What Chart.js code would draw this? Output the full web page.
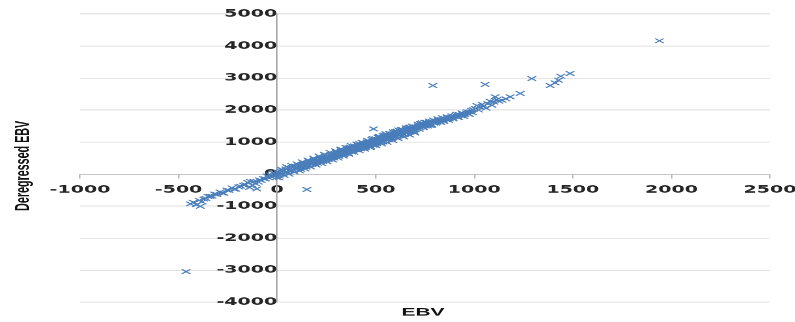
<!DOCTYPE html>
<html>
<head>
<meta charset="utf-8">
<script src="https://cdn.jsdelivr.net/npm/chart.js@4.4.1/dist/chart.umd.min.js"></script>
<style>
  html, body { margin: 0; padding: 0; background: #ffffff; overflow: hidden; }
  #wrap { width: 795px; height: 322px; overflow: hidden; position: relative; }
  #c { position: absolute; left: 0; top: 0; transform-origin: 0 0; transform: scaleY(0.536667); }
</style>
</head>
<body>
<div id="wrap"><canvas id="c" width="795" height="600"></canvas></div>
<script>
// EBV (x) and Deregressed EBV (y)
const ebv = [
  -462, -440, -425, -410, -395, -390, -380, -372, -362, -350, -340, -330, -318, -305, -290, -278, -270, -255, -245, -230, -218, -210, -195, -185, -170, -160, -150, -140, -137, -125, -118, -110, -103, -95, -90, -80, -70, -60, -50, -42, -35, -28, -20, -15, -8, -3,
  2, 5, 8, 12, 15, 18, 25, 30, 38, 44, 52, 58, 63, 70, 77, 84, 90, 97,
  104, 110, 118, 125, 131, 138, 145, 152, 160, 166, 173, 180, 188, 195, 151,
  202, 208, 215, 221, 228, 236, 243, 250, 257, 263, 270, 278, 285, 292, 298,
  305, 308, 311, 318, 324, 327, 330, 337, 343, 346, 350, 356, 362, 365, 369, 375, 382, 384, 388, 395, 398,
  402, 408, 411, 414, 420, 427, 433, 437, 440, 446, 452, 456, 459, 465, 471, 474, 478, 485, 489, 492, 495, 498,
  503, 509, 512, 515, 521, 528, 534, 538, 541, 547, 553, 557, 560, 566, 573, 579, 582, 586, 592, 595, 598,
  604, 611, 615, 617, 624, 630, 637, 640, 643, 650, 657, 663, 668, 670, 676, 683, 690, 693, 697,
  703, 710, 717, 724, 728, 731, 738, 745, 752, 756, 760, 767, 774, 781, 785, 788, 790, 795,
  802, 810, 818, 826, 834, 842, 850, 858, 866, 874, 882, 890, 898,
  906, 915, 924, 933, 942, 951, 960, 970, 980, 990,
  1005, 1013, 1022, 1030, 1040, 1047, 1055, 1060, 1068, 1080, 1090, 1100, 1106, 1115, 1125, 1140, 1160, 1182, 1233,
  1292, 1385, 1410, 1427, 1439, 1486, 1939,
  120, 135, 148, 162, 177, 190, 205, 218, 232, 246, 260, 274, 288, 300, 315, 333, 340, 355, 360, 372, 378, 392, 405, 418, 425, 436, 448, 462, 468, 480, 488, 500, 506, 518, 525, 536, 545, 551, 564, 570, 577, 589, 600, 608, 620, 633, 646, 655, 661, 674, 680, 688, 700, 714, 721, 735, 742, 749, 763, 771, 778, 792, 805, 815, 830, 838, 846, 862, 870, 886, 894, 910, 920, 938, 946, 965, 975, 985, 995,
  10, 22, 35, 48, 60, 74, 88, 100, 114, 128, 142, 156, 170, 184, 198, 212, 226, 240, 254, 268, 282, 296, 310, 322, 336, 349, 363, 376, 390, 403, 417, 430, 444, 458, 472, 486, 501, 515, 530, 544, 558, 572, 586, 600, 614, 628, 642, 656, 672, 686, 700
];
const deregressedEbv = [
  -3047, -930, -880, -960, -820, -1006, -870, -780, -760, -700, -693, -690, -620, -640, -560, -590, -600, -500, -510, -430, -470, -470, -400, -380, -350, -330, -260, -420, -225, -350, -230, -300, -463, -250, -180, -200, -140, -150, -60, -120, -20, -90, 30, -50, 10, -100,
  -30, 40, 60, -60, -10, 90, 20, 110, 50, 160, 70, 200, 100, 120, 210, 130, 250, 170,
  180, 260, 210, 300, 230, 320, 270, 340, 290, 370, 330, 400, 350, 420, -484,
  380, 450, 400, 480, 430, 510, 470, 540, 490, 560, 520, 590, 540, 620, 580,
  650, 560, 600, 680, 620, 740, 700, 650, 730, 640, 680, 760, 700, 820, 780, 720, 800, 740, 760, 830, 760,
  850, 790, 920, 880, 820, 900, 850, 820, 930, 870, 960, 1000, 900, 980, 920, 860, 1000, 950, 1412, 1030, 920, 990,
  1060, 1000, 1150, 1090, 1030, 1120, 1060, 1000, 1150, 1090, 1180, 1220, 1120, 1200, 1150, 1230, 1120, 1170, 1250, 1290, 1200,
  1280, 1220, 1380, 1300, 1260, 1340, 1270, 1250, 1360, 1310, 1390, 1330, 1450, 1410, 1360, 1430, 1390, 1330, 1450,
  1480, 1420, 1510, 1450, 1580, 1540, 1480, 1560, 1500, 1620, 1590, 1530, 1610, 1560, 1530, 1640, 2766, 1590,
  1660, 1620, 1680, 1650, 1700, 1670, 1730, 1700, 1760, 1720, 1780, 1750, 1800,
  1830, 1790, 1860, 1820, 1880, 1850, 1910, 1880, 1940, 1920,
  2050, 2141, 2000, 2090, 2180, 2120, 2797, 2060, 2200, 2276, 2150, 2250, 2412, 2330, 2280, 2307, 2350, 2412, 2516,
  2984, 2766, 2850, 2931, 3056, 3141, 4162,
  150, 330, 220, 400, 300, 460, 340, 500, 400, 560, 450, 620, 500, 680, 560, 760, 600, 820, 650, 840, 690, 880, 760, 950, 790, 980, 830, 1040, 880, 1080, 900, 1100, 950, 1180, 980, 1200, 1030, 1260, 1080, 1270, 1110, 1320, 1150, 1340, 1200, 1400, 1240, 1440, 1280, 1470, 1320, 1490, 1380, 1560, 1400, 1600, 1450, 1620, 1500, 1660, 1520, 1690, 1590, 1730, 1610, 1760, 1640, 1790, 1680, 1820, 1720, 1870, 1760, 1910, 1800, 1950, 1860, 1990, 2010,
  -120, 150, -40, 230, 0, 270, 60, 320, 100, 380, 160, 440, 220, 500, 280, 560, 330, 620, 380, 680, 440, 730, 500, 780, 560, 830, 620, 890, 680, 940, 730, 990, 780, 1050, 830, 1110, 890, 1160, 940, 1220, 990, 1270, 1050, 1330, 1110, 1380, 1160, 1440, 1220, 1500, 1280
];
const xAxisTitle = 'EBV';
const yAxisTitle = 'Deregressed EBV';
const xTicks = { min: -1000, max: 2500, step: 500 };
const yTicks = { min: -4000, max: 5000, step: 1000 };

const points = ebv.map((x, i) => ({ x: x, y: deregressedEbv[i] }));

const titlesPlugin = {
  id: 'axisTitles',
  afterDraw(chart) {
    const ctx = chart.ctx;
    ctx.save();
    ctx.fillStyle = '#111111';
    ctx.font = 'bold 21px "Liberation Sans", Arial, sans-serif';
    ctx.textAlign = 'center';
    ctx.textBaseline = 'middle';
    ctx.fillText(xAxisTitle, 423, 582);
    ctx.translate(23, 309);
    ctx.rotate(-Math.PI / 2);
    ctx.font = 'bold 20px "Liberation Sans", Arial, sans-serif';
    ctx.fillText(yAxisTitle, 0, 0);
    ctx.restore();
  }
};

const tickFont = { family: '"DejaVu Sans", Verdana, sans-serif', size: 19, weight: 'bold' };

new Chart(document.getElementById('c'), {
  type: 'scatter',
  data: {
    datasets: [{
      data: points,
      pointStyle: 'crossRot',
      pointRadius: 6,
      pointHoverRadius: 6,
      borderColor: '#4a7ebb',
      backgroundColor: '#4a7ebb',
      borderWidth: 1.7
    }]
  },
  options: {
    responsive: false,
    animation: false,
    devicePixelRatio: 1,
    layout: { padding: { left: 80, right: 25, top: 26, bottom: 37 } },
    plugins: { legend: { display: false }, tooltip: { enabled: false } },
    scales: {
      x: {
        type: 'linear',
        position: { y: 0 },
        min: xTicks.min, max: xTicks.max,
        afterFit: s => { s.paddingLeft = 0; s.paddingRight = 0; },
        ticks: {
          stepSize: xTicks.step,
          padding: 11,
          color: '#262626',
          font: tickFont,
          callback: v => String(v)
        },
        grid: { drawOnChartArea: false, drawTicks: true, tickLength: 7, color: '#b8b8b8', lineWidth: 1.5 },
        border: { display: true, color: '#b8b8b8', width: 1.5 }
      },
      y: {
        type: 'linear',
        position: { x: 0 },
        min: yTicks.min, max: yTicks.max,
        afterFit: s => { s.paddingTop = 0; s.paddingBottom = 0; },
        ticks: {
          stepSize: yTicks.step,
          padding: 27,
          color: '#262626',
          font: tickFont,
          callback: v => String(v)
        },
        grid: { drawTicks: false, color: '#d6d6d6', lineWidth: 1.6 },
        border: { display: true, color: '#a8a8a8', width: 1.6 }
      }
    }
  },
  plugins: [titlesPlugin]
});
</script>
</body>
</html>
